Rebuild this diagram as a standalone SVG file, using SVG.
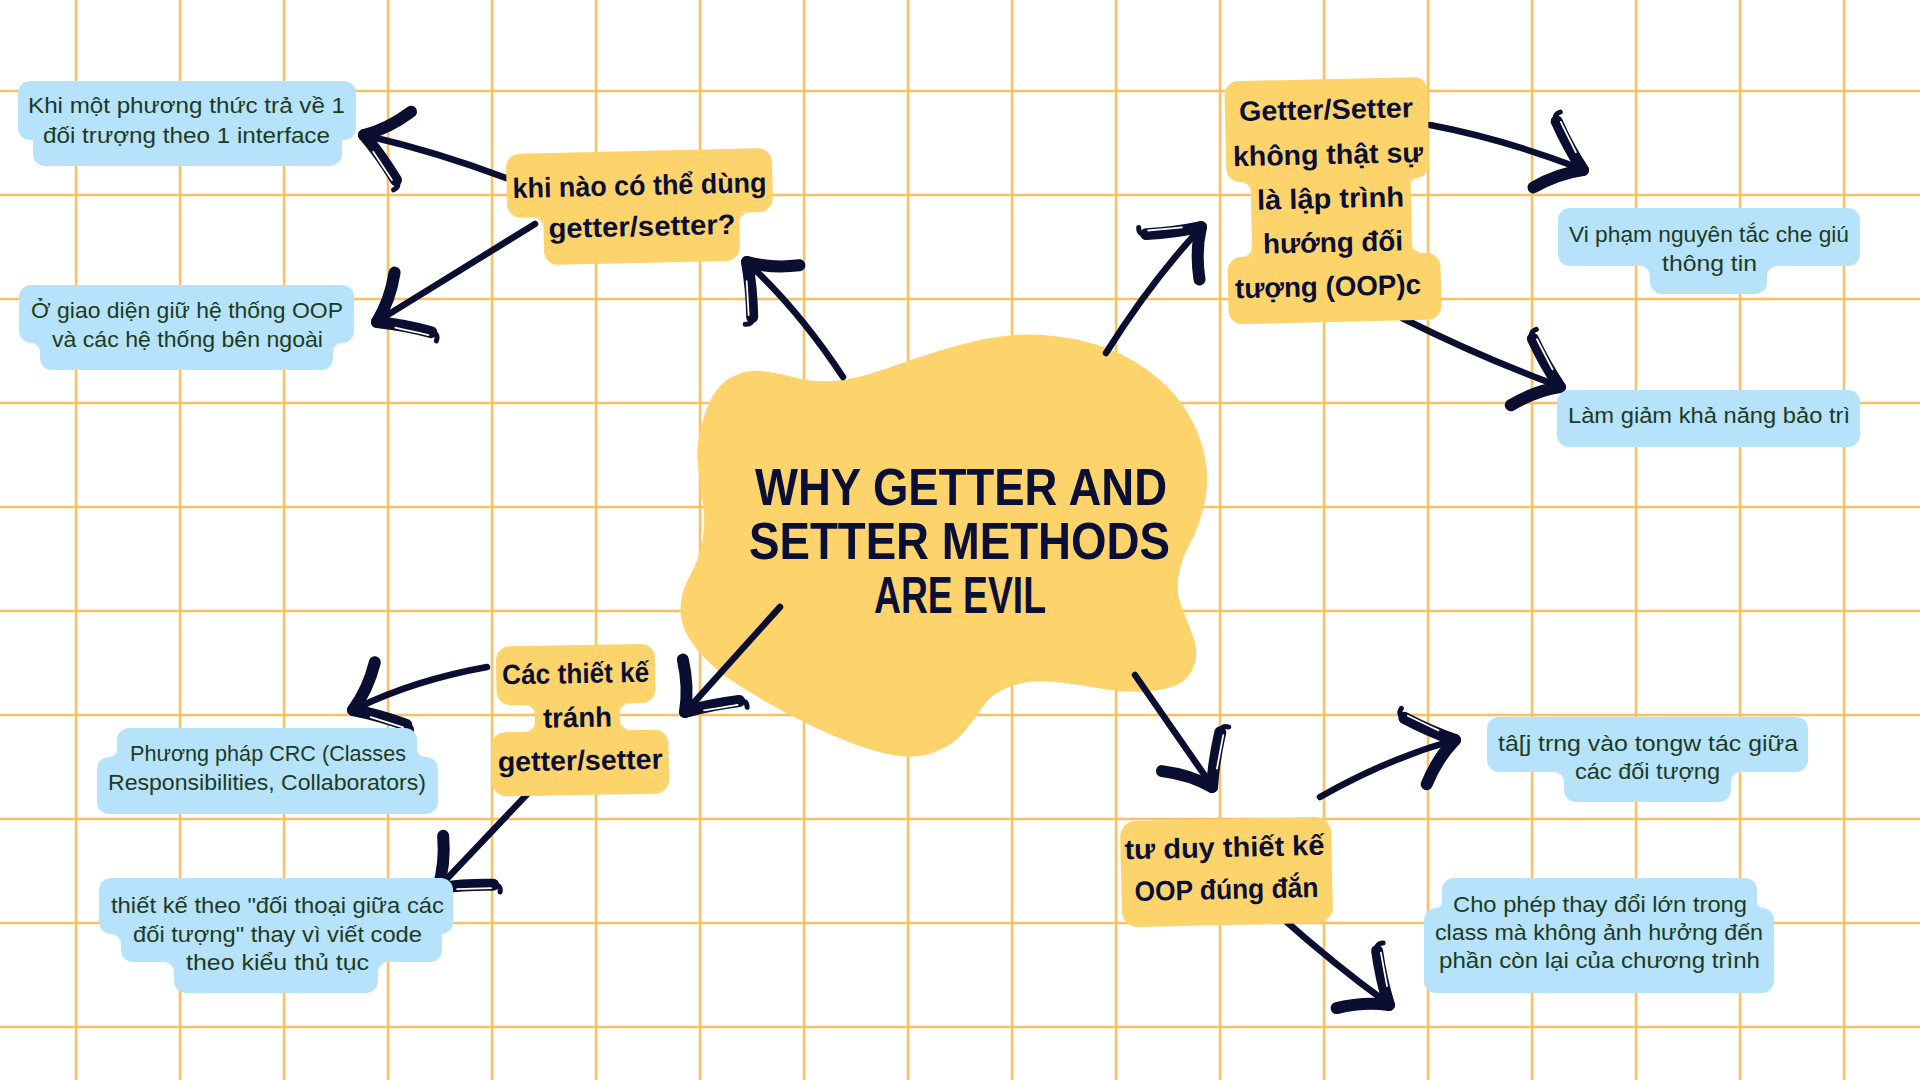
<svg xmlns="http://www.w3.org/2000/svg" width="1920" height="1080" viewBox="0 0 1920 1080">
<defs>
<style>
.grid{fill:none;stroke:#FCC062;stroke-width:2.5}
.y{fill:#FDD36C}
.b{fill:#B6E3FB}
.bt{font-family:"Liberation Sans","DejaVu Sans",sans-serif;font-size:22px;fill:#1E3A22}
.yt{font-family:"Liberation Sans","DejaVu Sans",sans-serif;font-size:28px;font-weight:bold;fill:#0A0F35}
.tt{font-family:"Liberation Sans","DejaVu Sans",sans-serif;font-size:52px;font-weight:bold;fill:#0A0F35}
.shaft{fill:none;stroke:#0A0E30;stroke-width:6.5;stroke-linecap:round}
.barb{fill:none;stroke:#0A0E30;stroke-width:12;stroke-linecap:round;stroke-linejoin:round}
.curl{fill:none;stroke:#0A0E30;stroke-width:5;stroke-linecap:round}
.hl{fill:none;stroke:#ffffff;stroke-width:1.8;stroke-linecap:round}
</style>
<g id="ah">
<path class="barb" d="M -42 -36 Q -22 -16 0 0"/>
<path class="barb" d="M 0 0 Q -22 12 -40 34"/>
<path class="curl" d="M -42 -36 q -6 -5 0 -10"/>
<path class="hl" d="M -38 -37 Q -24 -24 -13 -14"/>
</g>
</defs>

<rect width="1920" height="1080" fill="#ffffff"/>
<path class="grid" d="M76 0V1080M180 0V1080M284 0V1080M388 0V1080M492 0V1080M596 0V1080M700 0V1080M804 0V1080M908 0V1080M1012 0V1080M1116 0V1080M1220 0V1080M1324 0V1080M1428 0V1080M1532 0V1080M1636 0V1080M1740 0V1080M1844 0V1080M0 91H1920M0 195H1920M0 299H1920M0 403H1920M0 507H1920M0 611H1920M0 715H1920M0 819H1920M0 923H1920M0 1027H1920"/>

<g id="n-center">
<path class="y" d="M 705 413.5 Q 714 387 730 378 Q 746 369 762 371 Q 778 373 797.5 378 Q 817 383 838.5 380.5 Q 860 378 885 369 Q 910 360 937 351.5 Q 964 343 990.5 338 Q 1017 333 1044 335 Q 1071 337 1097.5 345 Q 1124 353 1147.5 370 Q 1171 387 1185 408.5 Q 1199 430 1204.5 455 Q 1210 480 1204.5 503.5 Q 1199 527 1190 543.5 Q 1181 560 1178.5 576.5 Q 1176 593 1181.5 606.5 Q 1187 620 1193 636.5 Q 1199 653 1194 666 Q 1189 679 1178 684.5 Q 1167 690 1145.5 691.5 Q 1124 693 1097.5 688 Q 1071 683 1049.5 681.5 Q 1028 680 1010 686.5 Q 992 693 983 706.5 Q 974 720 963.5 732.5 Q 953 745 935 752 Q 917 759 895.5 755.5 Q 874 752 847.5 741.5 Q 821 731 794 717 Q 767 703 740.5 686.5 Q 714 670 697.5 650 Q 681 630 680.5 611.5 Q 680 593 689.5 576.5 Q 699 560 702.5 540 Q 706 520 702.5 500 Q 699 480 697.5 460 Q 696 440 705 413.5 Z"/>
<text class="tt" x="755" y="505" textLength="412" lengthAdjust="spacingAndGlyphs">WHY GETTER AND</text>
<text class="tt" x="749" y="559" textLength="421" lengthAdjust="spacingAndGlyphs">SETTER METHODS</text>
<text class="tt" x="874" y="613" textLength="172" lengthAdjust="spacingAndGlyphs">ARE EVIL</text>
</g>

<g id="connectors">
<path class="shaft" d="M 506 178 Q 437 152 368 136"/>
<use href="#ah" transform="translate(364 135) rotate(194)"/>
<path class="shaft" d="M 535 224 L 381 319"/>
<use href="#ah" transform="translate(377 322) rotate(150)"/>
<path class="shaft" d="M 843 377 Q 800 312 751 266"/>
<use href="#ah" transform="translate(747 262) rotate(224)"/>
<path class="shaft" d="M 1106 353 Q 1150 283 1198 231"/>
<use href="#ah" transform="translate(1201 227) rotate(-48)"/>
<path class="shaft" d="M 1430 125 Q 1500 138 1579 168"/>
<use href="#ah" transform="translate(1583 170) rotate(21)"/>
<path class="shaft" d="M 1402 318 Q 1480 357 1556 385"/>
<use href="#ah" transform="translate(1560 387) rotate(20)"/>
<path class="shaft" d="M 780 607 L 689 708"/>
<use href="#ah" transform="translate(685 712) rotate(128)"/>
<path class="shaft" d="M 1135 675 L 1210 783"/>
<use href="#ah" transform="translate(1212 787) rotate(58)"/>
<path class="shaft" d="M 487 667 Q 415 680 357 708"/>
<use href="#ah" transform="translate(353 710) rotate(155)"/>
<path class="shaft" d="M 533 788 L 442 884"/>
<use href="#ah" transform="translate(438 888) rotate(136)"/>
<path class="shaft" d="M 1320 797 Q 1385 760 1451 741"/>
<use href="#ah" transform="translate(1455 740) rotate(-17)"/>
<path class="shaft" d="M 1281 917 Q 1335 965 1386 1002"/>
<use href="#ah" transform="translate(1389 1005) rotate(37)"/>
</g>

<g id="n-khinao" transform="rotate(-1.3 640 206)">
<rect class="y" x="507" y="151" width="266" height="64" rx="14"/>
<rect class="y" x="543" y="199" width="196" height="64" rx="14"/>
<path class="y" d="M 533 215 L 543 215 L 543 225 A 10 10 0 0 0 533 215 Z"/>
<path class="y" d="M 749 215 L 739 215 L 739 225 A 10 10 0 0 1 749 215 Z"/>
<text class="yt" x="513" y="195" textLength="254" lengthAdjust="spacingAndGlyphs">khi nào có thể dùng</text>
<text class="yt" x="548" y="236" textLength="187" lengthAdjust="spacingAndGlyphs">getter/setter?</text>
</g>

<g id="n-khimot">
<rect class="b" x="18" y="81" width="338" height="59" rx="12"/>
<rect class="b" x="33" y="124" width="309" height="42" rx="12"/>
<text class="bt" x="28" y="113" textLength="317" lengthAdjust="spacingAndGlyphs">Khi một phương thức trả về 1</text>
<text class="bt" x="43" y="143" textLength="287" lengthAdjust="spacingAndGlyphs">đối trượng theo 1 interface</text>
</g>

<g id="n-giaodien">
<rect class="b" x="19" y="285" width="335" height="58" rx="12"/>
<rect class="b" x="40" y="327" width="293" height="43" rx="12"/>
<path class="b" d="M 31 343 L 40 343 L 40 352 A 9 9 0 0 0 31 343 Z"/>
<path class="b" d="M 342 343 L 333 343 L 333 352 A 9 9 0 0 1 342 343 Z"/>
<text class="bt" x="31" y="318" textLength="312" lengthAdjust="spacingAndGlyphs">Ở giao diện giữ hệ thống OOP</text>
<text class="bt" x="52" y="347" textLength="271" lengthAdjust="spacingAndGlyphs">và các hệ thống bên ngoài</text>
</g>

<g id="n-getter" transform="rotate(-1.3 1332 200)">
<rect class="y" x="1227" y="79" width="203" height="101" rx="14"/>
<rect class="y" x="1251" y="164" width="160" height="107" rx="14"/>
<rect class="y" x="1226" y="255" width="213" height="67" rx="14"/>
<path class="y" d="M 1241 180 L 1251 180 L 1251 190 A 10 10 0 0 0 1241 180 Z"/>
<path class="y" d="M 1418 180 L 1411 180 L 1411 187 A 7 7 0 0 1 1418 180 Z"/>
<path class="y" d="M 1251 245 L 1251 255 L 1241 255 A 10 10 0 0 0 1251 245 Z"/>
<path class="y" d="M 1411 245 L 1411 255 L 1421 255 A 10 10 0 0 1 1411 245 Z"/>
<text class="yt" x="1241" y="119" textLength="174" lengthAdjust="spacingAndGlyphs">Getter/Setter</text>
<text class="yt" x="1234" y="164" textLength="190" lengthAdjust="spacingAndGlyphs">không thật sự</text>
<text class="yt" x="1257" y="208" textLength="147" lengthAdjust="spacingAndGlyphs">là lập trình</text>
<text class="yt" x="1262" y="252" textLength="140" lengthAdjust="spacingAndGlyphs">hướng đối</text>
<text class="yt" x="1233" y="296" textLength="186" lengthAdjust="spacingAndGlyphs">tượng (OOP)c</text>
</g>

<g id="n-viphamm">
<rect class="b" x="1558" y="208" width="302" height="58" rx="12"/>
<rect class="b" x="1650" y="250" width="117" height="44" rx="12"/>
<path class="b" d="M 1640 266 L 1650 266 L 1650 276 A 10 10 0 0 0 1640 266 Z"/>
<path class="b" d="M 1777 266 L 1767 266 L 1767 276 A 10 10 0 0 1 1777 266 Z"/>
<text class="bt" x="1569" y="242" textLength="280" lengthAdjust="spacingAndGlyphs">Vi phạm nguyên tắc che giú</text>
<text class="bt" x="1662" y="271" textLength="95" lengthAdjust="spacingAndGlyphs">thông tin</text>
</g>

<g id="n-lamgiam">
<rect class="b" x="1557" y="390" width="303" height="57" rx="12"/>
<text class="bt" x="1568" y="423" textLength="282" lengthAdjust="spacingAndGlyphs">Làm giảm khả năng bảo trì</text>
</g>

<g id="n-cacthietke" transform="rotate(-1 580 720)">
<rect class="y" x="497" y="645" width="159" height="59" rx="14"/>
<rect class="y" x="535" y="688" width="85" height="59" rx="14"/>
<rect class="y" x="491" y="731" width="177" height="64" rx="14"/>
<path class="y" d="M 525 704 L 535 704 L 535 714 A 10 10 0 0 0 525 704 Z"/>
<path class="y" d="M 630 704 L 620 704 L 620 714 A 10 10 0 0 1 630 704 Z"/>
<path class="y" d="M 535 721 L 535 731 L 525 731 A 10 10 0 0 0 535 721 Z"/>
<path class="y" d="M 620 721 L 620 731 L 630 731 A 10 10 0 0 1 620 721 Z"/>
<text class="yt" x="503" y="683" textLength="147" lengthAdjust="spacingAndGlyphs">Các thiết kế</text>
<text class="yt" x="543" y="727" textLength="69" lengthAdjust="spacingAndGlyphs">tránh</text>
<text class="yt" x="497" y="770" textLength="165" lengthAdjust="spacingAndGlyphs">getter/setter</text>
</g>

<g id="n-crc">
<rect class="b" x="117" y="728" width="300" height="44" rx="12"/>
<rect class="b" x="97" y="757" width="341" height="57" rx="12"/>
<path class="b" d="M 117 749 L 117 757 L 109 757 A 8 8 0 0 0 117 749 Z"/>
<path class="b" d="M 417 749 L 417 757 L 425 757 A 8 8 0 0 1 417 749 Z"/>
<text class="bt" x="130" y="761" textLength="276" lengthAdjust="spacingAndGlyphs">Phương pháp CRC (Classes</text>
<text class="bt" x="108" y="790" textLength="318" lengthAdjust="spacingAndGlyphs">Responsibilities, Collaborators)</text>
</g>

<g id="n-doithoai">
<rect class="b" x="99" y="878" width="354" height="56" rx="12"/>
<rect class="b" x="121" y="918" width="321" height="44" rx="12"/>
<rect class="b" x="174" y="946" width="204" height="47" rx="12"/>
<path class="b" d="M 111 934 L 121 934 L 121 944 A 10 10 0 0 0 111 934 Z"/>
<path class="b" d="M 164 962 L 174 962 L 174 972 A 10 10 0 0 0 164 962 Z"/>
<path class="b" d="M 388 962 L 378 962 L 378 972 A 10 10 0 0 1 388 962 Z"/>
<text class="bt" x="111" y="913" textLength="333" lengthAdjust="spacingAndGlyphs">thiết kế theo "đối thoại giữa các</text>
<text class="bt" x="133" y="942" textLength="289" lengthAdjust="spacingAndGlyphs">đối tượng" thay vì viết code</text>
<text class="bt" x="186" y="970" textLength="183" lengthAdjust="spacingAndGlyphs">theo kiểu thủ tục</text>
</g>

<g id="n-tuduy" transform="rotate(-1.3 1226 872)">
<rect class="y" x="1121" y="819" width="211" height="106" rx="16"/>
<text class="yt" x="1125" y="857" textLength="200" lengthAdjust="spacingAndGlyphs">tư duy thiết kế</text>
<text class="yt" x="1134" y="899" textLength="184" lengthAdjust="spacingAndGlyphs">OOP đúng đắn</text>
</g>

<g id="n-taptrung">
<rect class="b" x="1487" y="717" width="321" height="55" rx="12"/>
<rect class="b" x="1564" y="756" width="167" height="46" rx="12"/>
<path class="b" d="M 1554 772 L 1564 772 L 1564 782 A 10 10 0 0 0 1554 772 Z"/>
<path class="b" d="M 1741 772 L 1731 772 L 1731 782 A 10 10 0 0 1 1741 772 Z"/>
<text class="bt" x="1498" y="751" textLength="300" lengthAdjust="spacingAndGlyphs">tâ[j trng vào tongw tác giữa</text>
<text class="bt" x="1575" y="779" textLength="145" lengthAdjust="spacingAndGlyphs">các đối tượng</text>
</g>

<g id="n-chophep">
<rect class="b" x="1442" y="878" width="315" height="44" rx="12"/>
<rect class="b" x="1424" y="908" width="350" height="85" rx="12"/>
<path class="b" d="M 1442 902 L 1442 908 L 1436 908 A 6 6 0 0 0 1442 902 Z"/>
<path class="b" d="M 1757 902 L 1757 908 L 1763 908 A 6 6 0 0 1 1757 902 Z"/>
<text class="bt" x="1453" y="912" textLength="294" lengthAdjust="spacingAndGlyphs">Cho phép thay đổi lớn trong</text>
<text class="bt" x="1435" y="940" textLength="328" lengthAdjust="spacingAndGlyphs">class mà không ảnh hưởng đến</text>
<text class="bt" x="1439" y="968" textLength="321" lengthAdjust="spacingAndGlyphs">phần còn lại của chương trình</text>
</g>
</svg>
